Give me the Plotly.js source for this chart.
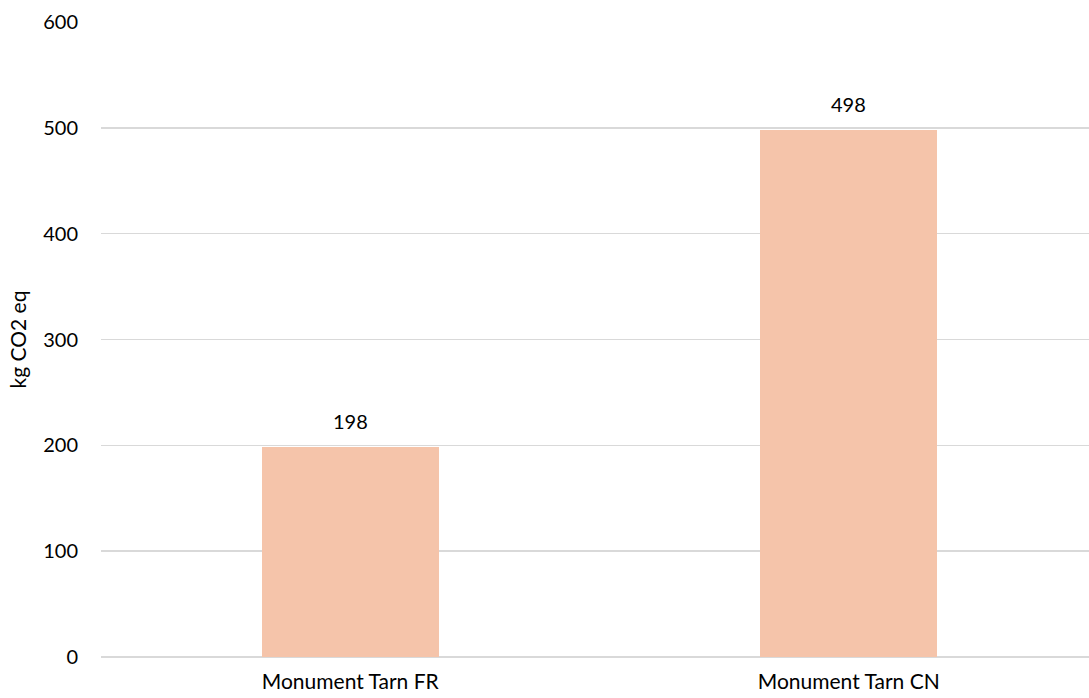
<!DOCTYPE html>
<html>
<head>
<meta charset="utf-8">
<script src="https://cdn.plot.ly/plotly-3.0.1.min.js"></script>
<style>html,body{margin:0;padding:0;background:#fff;}#chart{width:1089px;height:698px;}</style>
</head>
<body>
<div id="chart"></div>
<script>
const categories = ["Monument Tarn FR", "Monument Tarn CN"];
const values = [198, 498];
const valueLabels = ["198", "498"];
const yTickVals = [0, 100, 200, 300, 400, 500, 600];
const yTickText = ["0", "100", "200", "300", "400", "500", "600"];

const fam = "Lato, 'Open Sans', sans-serif";
const font = {family: fam, size: 20, color: "#000000"};
const xFont = {family: fam, size: 21, color: "#000000"};
const titleFont = {family: fam, size: 21, color: "#000000"};

const trace = {
  type: "bar",
  x: [0, 1],
  y: values,
  width: 0.355,
  marker: {color: "#F5C4AA"},
  hoverinfo: "skip"
};

const annotations = values.map((v, i) => ({
  x: i, y: v, text: valueLabels[i], showarrow: false,
  xref: "x", yref: "y", yanchor: "bottom", yshift: 12,
  font: font
}));

const layout = {
  width: 1089, height: 698,
  margin: {l: 101, r: 0, t: 22, b: 41},
  paper_bgcolor: "#ffffff", plot_bgcolor: "#ffffff",
  font: font,
  showlegend: false,
  bargap: 0,
  xaxis: {
    range: [-0.5, 1.482],
    tickvals: [0, 1], ticktext: categories,
    showgrid: false, zeroline: false,
    showline: false, ticks: "",
    ticklabelstandoff: 10,
    tickfont: xFont
  },
  yaxis: {
    range: [0, 600],
    tickvals: yTickVals, ticktext: yTickText,
    showgrid: true, gridcolor: "#D9D9D9", gridwidth: 1.6,
    zeroline: true, zerolinecolor: "#D9D9D9", zerolinewidth: 1.6,
    showline: false, ticks: "",
    ticklabelstandoff: 22,
    tickfont: font,
    title: {text: "kg CO2 eq", font: titleFont, standoff: 10}
  },
  annotations: annotations
};

Plotly.newPlot("chart", [trace], layout, {displayModeBar: false, staticPlot: true});
</script>
</body>
</html>
